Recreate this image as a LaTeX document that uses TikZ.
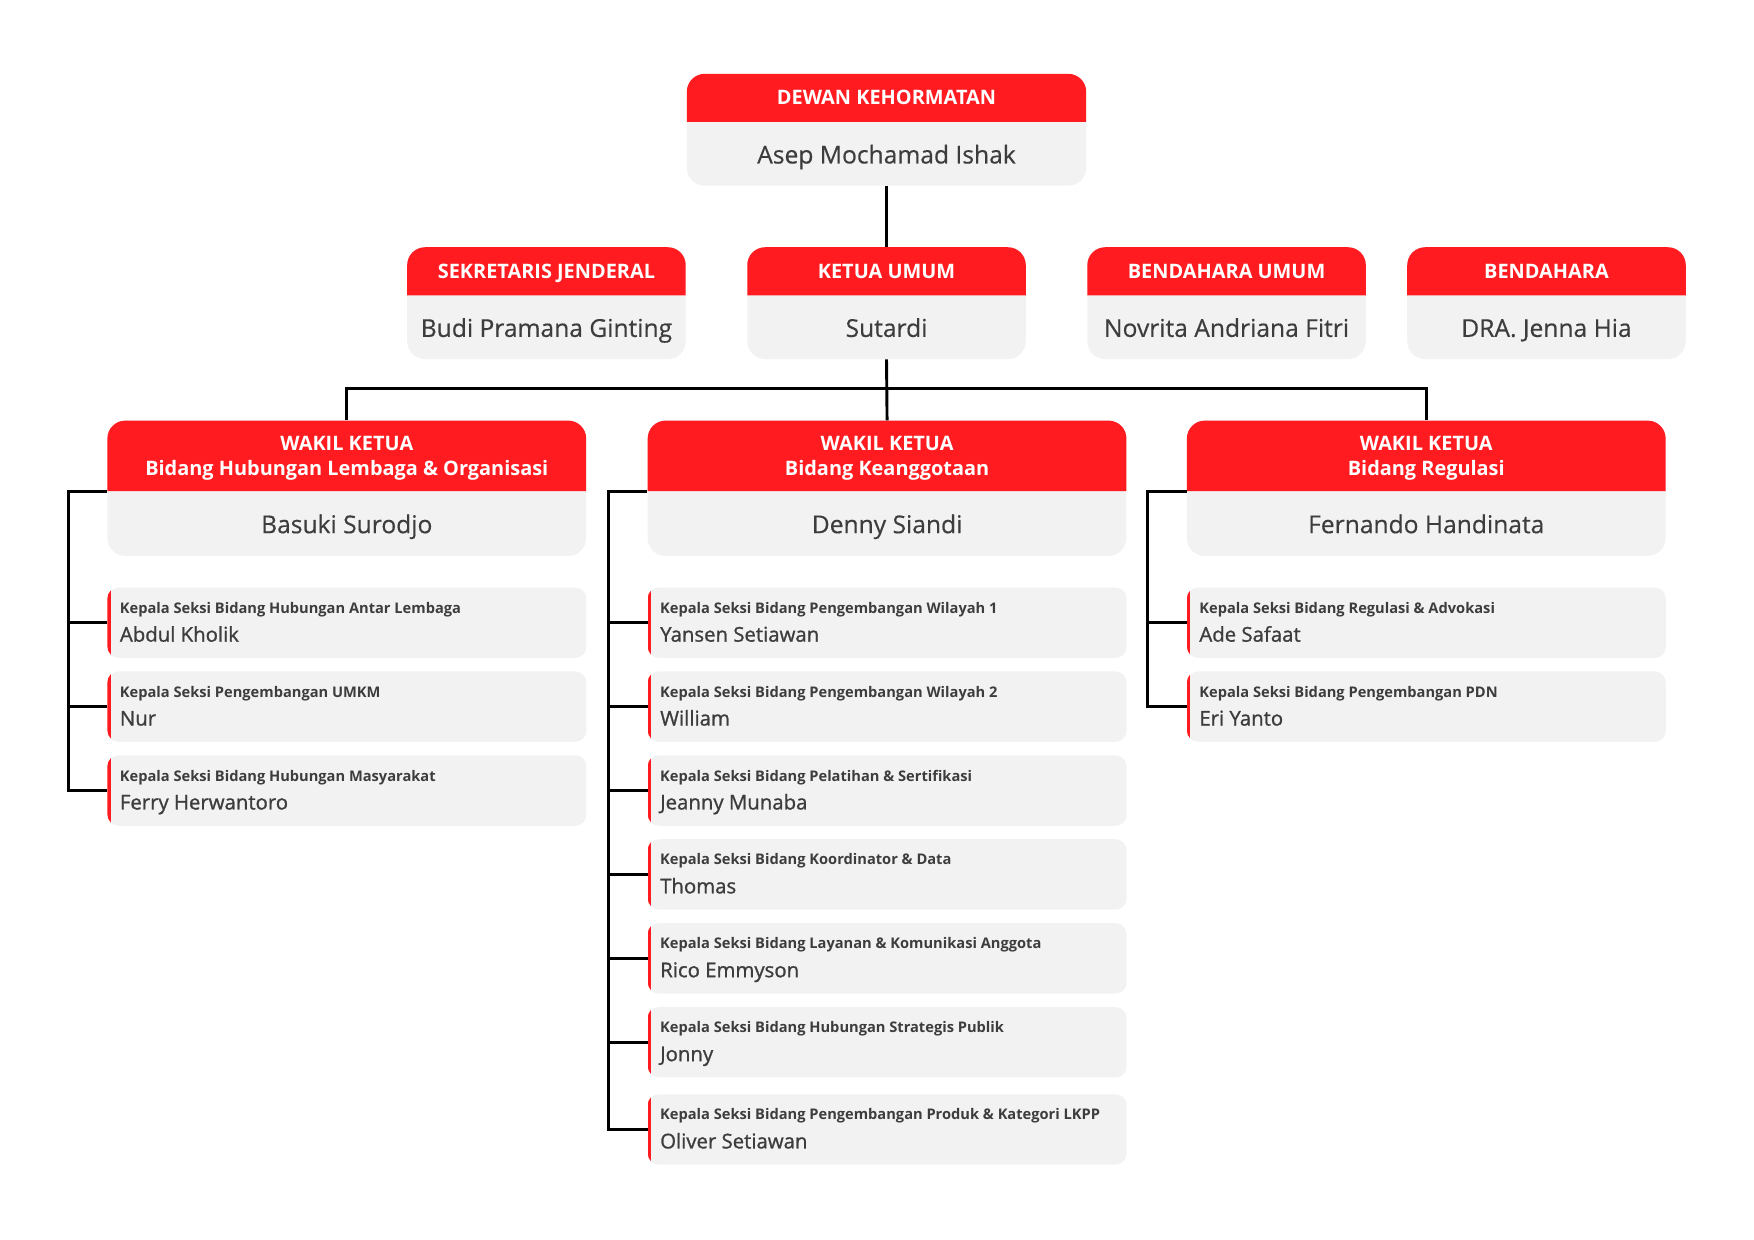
\documentclass[tikz,border=0pt]{standalone}
\usepackage{fontspec}
\setmainfont{Open Sans}
\newfontfamily\medfont[FakeBold=1.1]{Open Sans}
\newfontfamily\regfont[FakeBold=0.4]{Open Sans}
\usetikzlibrary{calc}
\definecolor{hred}{HTML}{FF1B1F}
\definecolor{bgray}{HTML}{F2F2F2}
\definecolor{txt}{HTML}{3D3D3D}
\tikzset{
  conn/.style={draw=black, line width=2.6pt},
  bodybox/.style={fill=bgray, rounded corners=16pt, inner sep=0pt, draw=none},
  hdrtxt/.style={text=white, font=\bfseries\fontsize{17.8}{22}\selectfont, align=center, inner sep=0pt},
  hdrone/.style={text height=12.7pt, text depth=0pt},
  hdrtwo/.style={text height=34.7pt, text depth=0pt},
  nametxt/.style={text=txt, font=\regfont\fontsize{22}{26}\selectfont, inner sep=0pt, text height=15.7pt, text depth=0pt},
  cbody/.style={fill=bgray, rounded corners=10pt, inner sep=0pt, draw=none},
  ctitle/.style={text=txt, font=\bfseries\fontsize{13.1}{15}\selectfont, inner sep=0pt},
  cname/.style={text=txt, font=\medfont\fontsize{18.2}{21}\selectfont, inner sep=0pt}
}
\newcommand\topbox[9]{%
  \node[bodybox, minimum width={(#4-#2)*1pt}, minimum height={(#5-#3)*1pt}] (#1) at ({(#2+#4)/2},{(#3+#5)/2}) {};
  \fill[hred] (#2,#6) [rounded corners=16pt] -- (#2,#3) -- (#4,#3) [sharp corners] -- (#4,#6) -- cycle;
  \node[hdrtxt, #9] (#1h) at ({(#2+#4)/2},{(#3+#6)/2}) {#7};
  \node[nametxt] (#1n) at ({(#2+#4)/2},{(#6+#5)/2+0.8}) {#8};
}
\newcommand\childbox[5]{%
  \node[cbody, minimum width=428pt, minimum height=63pt, anchor=north west] (#1) at (#2,#3) {};
  \begin{scope}
    \clip[rounded corners=10pt] (#2,#3) rectangle ++(428,63);
    \fill[hred] (#2,#3) rectangle ++(3,63);
  \end{scope}
  \node[ctitle, anchor=base west] (#1t) at ({#2+11},{#3+23.2}) {#4};
  \node[cname, anchor=base west] (#1p) at ({#2+11},{#3+48.6}) {#5};
}
\begin{document}
\begin{tikzpicture}[x=1pt,y=-1pt]
\useasboundingbox (0,0) rectangle (1568,1108.5);

% top
\topbox{dk}{614}{66}{971}{166}{109}{DEWAN KEHORMATAN}{Asep Mochamad Ishak}{hdrone}
% second row
\topbox{sj}{364}{221}{613}{321}{264}{SEKRETARIS JENDERAL}{Budi Pramana Ginting}{hdrone}
\topbox{ku}{668}{221}{917}{321}{264}{KETUA UMUM}{Sutardi}{hdrone}
\topbox{bu}{972}{221}{1221}{321}{264}{BENDAHARA UMUM}{Novrita Andriana Fitri}{hdrone}
\topbox{bd}{1258}{221}{1507}{321}{264}{BENDAHARA}{DRA. Jenna Hia}{hdrone}
% wakil
\topbox{wa}{96}{376}{524}{497}{439}{WAKIL KETUA\\Bidang Hubungan Lembaga \& Organisasi}{Basuki Surodjo}{hdrtwo}
\topbox{wb}{579}{376}{1007}{497}{439}{WAKIL KETUA\\Bidang Keanggotaan}{Denny Siandi}{hdrtwo}
\topbox{wc}{1061}{376}{1489}{497}{439}{WAKIL KETUA\\Bidang Regulasi}{Fernando Handinata}{hdrtwo}

% children column 1
\childbox{a1}{96}{525}{Kepala Seksi Bidang Hubungan Antar Lembaga}{Abdul Kholik}
\childbox{a2}{96}{600}{Kepala Seksi Pengembangan UMKM}{Nur}
\childbox{a3}{96}{675}{Kepala Seksi Bidang Hubungan Masyarakat}{Ferry Herwantoro}
% column 2
\childbox{b1}{579}{525}{Kepala Seksi Bidang Pengembangan Wilayah 1}{Yansen Setiawan}
\childbox{b2}{579}{600}{Kepala Seksi Bidang Pengembangan Wilayah 2}{William}
\childbox{b3}{579}{675}{Kepala Seksi Bidang Pelatihan \& Sertifikasi}{Jeanny Munaba}
\childbox{b4}{579}{750}{Kepala Seksi Bidang Koordinator \& Data}{Thomas}
\childbox{b5}{579}{825}{Kepala Seksi Bidang Layanan \& Komunikasi Anggota}{Rico Emmyson}
\childbox{b6}{579}{900}{Kepala Seksi Bidang Hubungan Strategis Publik}{Jonny}
\childbox{b7}{579}{978}{Kepala Seksi Bidang Pengembangan Produk \& Kategori LKPP}{Oliver Setiawan}
% column 3
\childbox{c1}{1061}{525}{Kepala Seksi Bidang Regulasi \& Advokasi}{Ade Safaat}
\childbox{c2}{1061}{600}{Kepala Seksi Bidang Pengembangan PDN}{Eri Yanto}

% connectors
\coordinate (bus) at (793,347);
\coordinate (ja) at (61,439);
\coordinate (jb) at (544,439);
\coordinate (jc) at (1026,439);
\draw[conn] (dk.south) -- (ku.north);
\draw[conn] (ku.south) -- (wb.north);
\draw[conn] (wa.north) |- (bus) -| (wc.north);

\draw[conn] (wa.west |- ja) -- (ja) |- (a3.west);
\foreach \n in {a1,a2} \draw[conn] (\n.west) -- (\n.west -| ja);
\draw[conn] (wb.west |- jb) -- (jb) |- (b7.west);
\foreach \n in {b1,b2,b3,b4,b5,b6} \draw[conn] (\n.west) -- (\n.west -| jb);
\draw[conn] (wc.west |- jc) -- (jc) |- (c2.west);
\draw[conn] (c1.west) -- (c1.west -| jc);
\end{tikzpicture}
\end{document}
